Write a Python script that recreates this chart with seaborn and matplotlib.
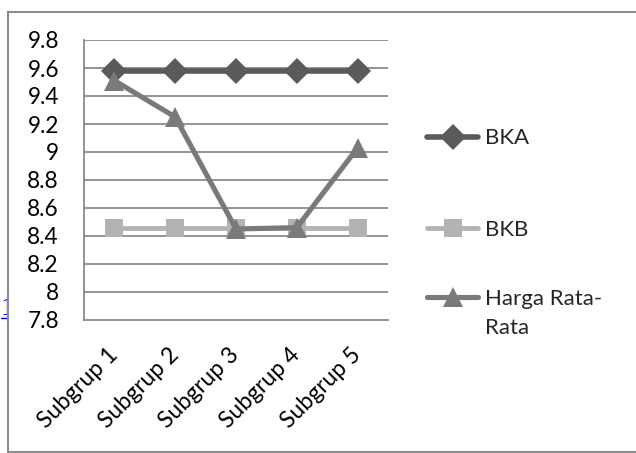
import matplotlib
matplotlib.use("Agg")
import matplotlib.pyplot as plt
from matplotlib.patches import Rectangle
from matplotlib.lines import Line2D
import seaborn as sns
import pandas as pd
import numpy as np

subgroups = ["Subgrup 1", "Subgrup 2", "Subgrup 3", "Subgrup 4", "Subgrup 5"]
bka = [9.58, 9.58, 9.58, 9.58, 9.58]
bkb = [8.46, 8.46, 8.46, 8.46, 8.46]
harga_rata = [9.51, 9.25, 8.45, 8.46, 9.03]
series_names = ["BKA", "BKB", "Harga Rata-\nRata"]
y_ticks = [7.8, 8.0, 8.2, 8.4, 8.6, 8.8, 9.0, 9.2, 9.4, 9.6, 9.8]
y_tick_labels = ["7.8", "8", "8.2", "8.4", "8.6", "8.8", "9", "9.2", "9.4", "9.6", "9.8"]

df = pd.DataFrame({
    "Subgrup": subgroups * 3,
    "Nilai": bka + bkb + harga_rata,
    "Seri": [series_names[0]] * 5 + [series_names[1]] * 5 + [series_names[2]] * 5,
})

sns.set_theme(style="white")
plt.rcParams["font.family"] = ["Lato", "DejaVu Sans"]

colors = {"BKA": "#5a5a5a", "BKB": "#b3b3b3", "Harga Rata-\nRata": "#7a7a7a"}
markers = {"BKA": "D", "BKB": "s", "Harga Rata-\nRata": "^"}
msizes = {"BKA": 13, "BKB": 13.5, "Harga Rata-\nRata": 14}
lwidths = {"BKA": 4.0, "BKB": 3.5, "Harga Rata-\nRata": 3.7}

fig = plt.figure(figsize=(6.36, 4.53), dpi=100)
ax = fig.add_axes([84 / 636, 1 - 320 / 453, (388 - 84) / 636, (320 - 40) / 453])
ax.set_zorder(2)

grid_color = "#8a8a8a"
for v in y_ticks[1:]:
    ax.axhline(v, color=grid_color, lw=1.3, zorder=0)

for name in series_names:
    sub = df[df["Seri"] == name]
    sns.lineplot(data=sub, x="Subgrup", y="Nilai", ax=ax, color=colors[name],
                 lw=lwidths[name], marker=markers[name], markersize=msizes[name],
                 markeredgewidth=0, sort=False, legend=False, zorder=3)

ax.set_xlim(-0.5, 4.5)
ax.set_ylim(7.8, 9.8)
ax.set_yticks(y_ticks)
ax.set_yticklabels(y_tick_labels, fontsize=16.3, color="black")
ax.set_xticks(range(len(subgroups)))
ax.set_xticklabels(subgroups, fontsize=16.5, color="black", rotation=45,
                   ha="right", va="center", rotation_mode="anchor")
ax.set_xticks(np.arange(-0.5, 5, 1), minor=True)
ax.tick_params(axis="x", which="major", length=0, pad=23)
ax.tick_params(axis="x", which="minor", length=6, width=1.3, color=grid_color, direction="out")
ax.tick_params(axis="y", which="major", length=6, width=1.3, color=grid_color, direction="out", pad=12)
ax.set_xlabel("")
ax.set_ylabel("")

for side in ["top", "right"]:
    ax.spines[side].set_visible(False)
for side in ["left", "bottom"]:
    ax.spines[side].set_color(grid_color)
    ax.spines[side].set_linewidth(1.3)

handles = [Line2D([0], [0], color=colors[n], lw=lwidths[n], marker=markers[n],
                  markersize=msizes[n], markeredgewidth=0, solid_capstyle="round")
           for n in series_names]
leg_kw = dict(loc="upper left", frameon=False, fontsize=16, handlelength=2.3,
              handletextpad=0.3, borderaxespad=0)

leg1 = ax.legend(handles[:2], series_names[:2], bbox_to_anchor=(1.1, 0.716),
                 labelspacing=3.2, **leg_kw)
ax.add_artist(leg1)

leg2 = ax.legend(handles[2:], series_names[2:], bbox_to_anchor=(1.1, 0.144), **leg_kw)
leg2.get_texts()[0].set_linespacing(1.58)
# keep the marker level with the first text line
h = leg2.legend_handles[0]
h.set_ydata(np.asarray(h.get_ydata()) + 11.9)

# underlined reference number in the page margin, partly under the chart box
fig.text(1 / 636, 1 - 315 / 453, "1", color="#0000ee", fontsize=19, zorder=1,
         family=["Liberation Serif", "DejaVu Serif"], va="baseline", ha="left")
fig.lines.append(Line2D([1 / 636, 8 / 636], [1 - 318 / 453, 1 - 318 / 453],
                        transform=fig.transFigure, color="#0000ee", lw=1.0, zorder=1))

# white chart box with its grey border
fig.patches.append(Rectangle((7.5 / 636, 1 / 453), 1.0, (441 - 1) / 453,
                             transform=fig.transFigure, facecolor="white",
                             edgecolor="#8c8c8c", lw=1.5, zorder=1.5))

fig.savefig("out.png", dpi=100)
